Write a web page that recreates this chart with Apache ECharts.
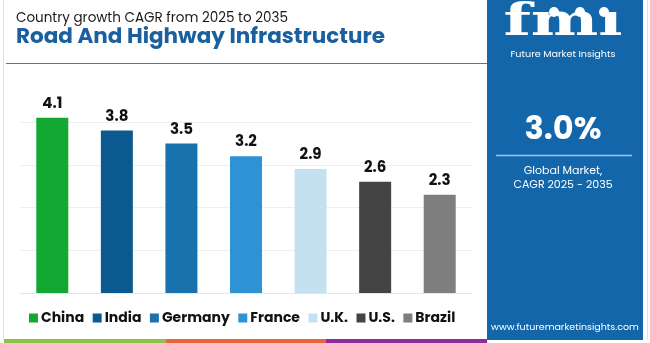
<!DOCTYPE html>
<html>
<head>
<meta charset="utf-8">
<script src="https://cdn.jsdelivr.net/npm/echarts@6/dist/echarts.min.js"></script>
<style>
html,body{margin:0;padding:0;background:#fff;}
#chart{width:650px;height:343px;}
</style>
</head>
<body>
<div id="chart"></div>
<script>
var categories = ['China', 'India', 'Germany', 'France', 'U.K.', 'U.S.', 'Brazil'];
var values = [4.1, 3.8, 3.5, 3.2, 2.9, 2.6, 2.3];
var colors = ['#12a832', '#0b5a8f', '#1a72ad', '#2e93d5', '#c4e1f2', '#444444', '#7f7f7f'];
var yTicks = [0, 1, 2, 3, 4];

var chart = echarts.init(document.getElementById('chart'), null, {renderer: 'canvas'});
var FONT = 'Poppins, "Open Sans", sans-serif';

var series = categories.map(function (name, i) {
  var d = categories.map(function (c, j) { return j === i ? values[i] : '-'; });
  return {
    name: name,
    type: 'bar',
    stack: 'all',
    barWidth: 32,
    clip: false,
    data: d,
    itemStyle: {color: colors[i]},
    label: {
      show: true,
      position: 'top',
      distance: 6,
      color: '#111',
      fontWeight: 'bold',
      fontSize: 15,
      fontFamily: FONT,
      formatter: function (p) { return p.value.toFixed(1); }
    }
  };
});

var option = {
  animation: false,
  backgroundColor: '#ffffff',
  title: [
    {text: 'Country growth CAGR from 2025 to 2035', left: 11, top: 7,
     textStyle: {fontSize: 13.5, fontWeight: 'normal', color: '#1a1a1a', fontFamily: FONT}},
    {text: 'Road And Highway Infrastructure', left: 11, top: 22,
     textStyle: {fontSize: 21.5, fontWeight: 'bold', color: '#1a5f9e', fontFamily: FONT}}
  ],
  legend: {
    data: categories,
    left: 24, top: 306,
    icon: 'rect', itemWidth: 9, itemHeight: 9, itemGap: 8.5,
    textStyle: {fontSize: 14, fontWeight: 'bold', color: '#111', fontFamily: FONT, padding: [0, 0, 0, -2]}
  },
  grid: {left: 20, right: 178, top: 122, bottom: 50},
  xAxis: {
    type: 'category', data: categories,
    axisLine: {show: true, lineStyle: {color: '#e6e6e6'}},
    axisTick: {show: false}, axisLabel: {show: false}
  },
  yAxis: {
    type: 'value', min: yTicks[0], max: yTicks[yTicks.length - 1], interval: 1,
    axisLine: {show: false}, axisTick: {show: false}, axisLabel: {show: false},
    splitLine: {lineStyle: {color: '#efefef'}}
  },
  series: series,
  graphic: [
    {type: 'line', shape: {x1: 3.5, y1: 0, x2: 3.5, y2: 340}, style: {stroke: '#e2e2e2', lineWidth: 1}},
    {type: 'line', shape: {x1: 647.5, y1: 0, x2: 647.5, y2: 340}, style: {stroke: '#e2e2e2', lineWidth: 1}},
    {type: 'line', shape: {x1: 6, y1: 63.5, x2: 487, y2: 63.5}, style: {stroke: '#3a7fb3', lineWidth: 1}},
    {type: 'rect', shape: {x: 4, y: 339, width: 162, height: 4}, style: {fill: '#8bc34a'}},
    {type: 'rect', shape: {x: 166, y: 339, width: 160, height: 4}, style: {fill: '#e8643a'}},
    {type: 'rect', shape: {x: 326, y: 339, width: 161, height: 4}, style: {fill: '#8e2a9a'}},
    {type: 'rect', shape: {x: 487, y: 0, width: 156, height: 340}, style: {fill: '#1466aa'}},
    {type: 'text', x: 563, y: 46, scaleX: 1.45, scaleY: 1,
      style: {text: 'fmı', x: 0, y: 0, textAlign: 'center', textVerticalAlign: 'bottom',
      fill: '#ffffff', font: 'bold 44px "DejaVu Serif", serif'}},
    {type: 'circle', shape: {cx: 554, cy: 12, r: 5}, style: {fill: '#ffffff'}},
    {type: 'circle', shape: {cx: 580, cy: 12, r: 5}, style: {fill: '#ffffff'}},
    {type: 'circle', shape: {cx: 604, cy: 12, r: 5}, style: {fill: '#ffffff'}},
    {type: 'text', style: {text: 'Future Market Insights', x: 563, y: 55, textAlign: 'center', textVerticalAlign: 'middle',
      fill: '#ffffff', font: '9.6px ' + FONT}},
    {type: 'text', style: {text: '3.0%', x: 563, y: 131, textAlign: 'center', textVerticalAlign: 'middle',
      fill: '#ffffff', font: 'bold 32px ' + FONT}},
    {type: 'line', shape: {x1: 496, y1: 155.5, x2: 632, y2: 155.5}, style: {stroke: '#9cc6e8', lineWidth: 1.5}},
    {type: 'text', style: {text: 'Global Market,', x: 563, y: 171, textAlign: 'center', textVerticalAlign: 'middle',
      fill: '#ffffff', font: '11px ' + FONT}},
    {type: 'text', style: {text: 'CAGR 2025 - 2035', x: 563, y: 185, textAlign: 'center', textVerticalAlign: 'middle',
      fill: '#ffffff', font: '11px ' + FONT}},
    {type: 'text', style: {text: 'www.futuremarketinsights.com', x: 565, y: 328, textAlign: 'center', textVerticalAlign: 'middle',
      fill: '#ffffff', font: '9.5px ' + FONT}}
  ]
};
chart.setOption(option);
</script>
</body>
</html>
